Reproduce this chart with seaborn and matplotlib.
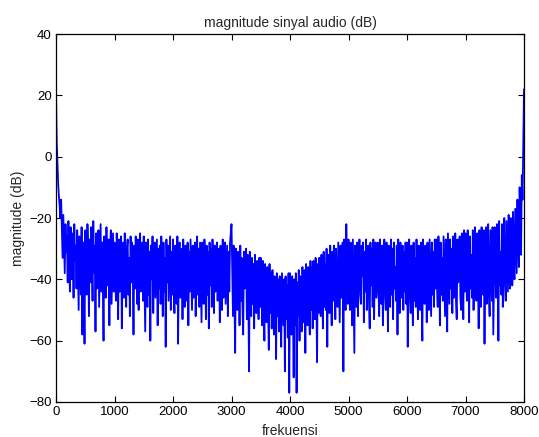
import numpy as np
import pandas as pd
import matplotlib
matplotlib.use("Agg")
import matplotlib.pyplot as plt
import seaborn as sns

# frequency step between bins (Hz)
bin_step = 12.5

# magnitude (dB), 12.5 Hz per value, 0..8000 Hz
magnitude_db = [
    22, 5, -2, -9, -13, -16, -20, -14, -24, -33, -19, -28, -38, -22, -31, -26, -41, -21, -35, -44,
    -23, -30, -40, -25, -46, -22, -34, -29, -43, -24, -37, -50, -26, -32, -45, -23, -58, -28, -39, -61,
    -24, -36, -45, -22, -30, -52, -27, -41, -23, -34, -47, -21, -38, -29, -57, -25, -43, -31, -24, -49,
    -35, -22, -44, -28, -39, -60, -26, -33, -46, -23, -37, -42, -27, -55, -30, -24, -48, -36, -25, -44,
    -28, -40, -47, -25, -34, -53, -27, -44, -31, -26, -56, -36, -28, -46, -25, -39, -49, -30, -27, -45,
    -33, -52, -26, -41, -28, -37, -58, -29, -43, -26, -35, -48, -27, -50, -32, -25, -44, -38, -28, -47,
    -26, -42, -57, -28, -35, -49, -27, -45, -31, -60, -29, -40, -26, -51, -34, -28, -46, -37, -27, -55,
    -30, -43, -29, -48, -26, -38, -52, -28, -44, -33, -62, -27, -41, -29, -47, -36, -26, -50, -31, -45,
    -27, -44, -51, -29, -36, -48, -26, -61, -33, -28, -46, -39, -30, -53, -27, -42, -49, -29, -35, -47,
    -28, -55, -31, -44, -27, -38, -50, -29, -46, -34, -28, -52, -37, -26, -45, -30, -49, -28, -41, -54,
    -28, -40, -48, -27, -36, -53, -29, -45, -31, -56, -28, -42, -30, -49, -27, -38, -51, -29, -44, -33,
    -28, -47, -36, -30, -54, -29, -41, -50, -27, -46, -32, -28, -48, -39, -29, -52, -31, -44, -28, -25,
    -22, -38, -52, -29, -45, -64, -30, -41, -50, -31, -36, -55, -29, -47, -33, -49, -58, -31, -43, -37,
    -30, -53, -32, -46, -70, -31, -40, -52, -33, -48, -35, -56, -32, -44, -51, -34, -39, -53, -33, -49,
    -33, -45, -55, -34, -50, -60, -35, -42, -54, -36, -48, -63, -35, -51, -38, -56, -37, -46, -58, -39,
    -44, -66, -38, -52, -40, -57, -39, -49, -62, -38, -47, -55, -40, -70, -39, -53, -42, -59, -38, -77,
    -38, -50, -58, -39, -48, -72, -40, -55, -38, -77, -41, -52, -37, -60, -39, -49, -57, -36, -46, -54,
    -37, -64, -35, -48, -55, -36, -44, -58, -34, -50, -36, -56, -34, -47, -53, -33, -45, -67, -35, -51,
    -33, -46, -52, -32, -42, -56, -31, -49, -35, -50, -30, -62, -32, -44, -51, -29, -40, -55, -31, -47,
    -29, -38, -53, -30, -45, -49, -28, -41, -54, -29, -46, -37, -28, -70, -27, -44, -50, -22, -39, -48,
    -27, -43, -50, -28, -38, -55, -27, -46, -64, -29, -41, -49, -28, -52, -33, -27, -45, -48, -29, -39,
    -28, -54, -31, -44, -27, -50, -36, -29, -47, -56, -28, -42, -30, -49, -27, -53, -35, -28, -46, -40,
    -28, -44, -52, -27, -39, -48, -29, -55, -33, -27, -46, -50, -28, -41, -57, -29, -37, -49, -27, -45,
    -30, -53, -28, -43, -36, -47, -29, -58, -27, -40, -51, -28, -46, -34, -29, -50, -31, -44, -28, -48,
    -28, -62, -35, -27, -45, -51, -29, -40, -55, -28, -47, -33, -49, -27, -42, -53, -29, -38, -50, -28,
    -46, -60, -27, -41, -48, -29, -36, -54, -28, -44, -50, -27, -39, -52, -28, -45, -31, -49, -27, -43,
    -27, -42, -49, -26, -38, -55, -28, -45, -33, -47, -26, -40, -52, -27, -44, -57, -25, -36, -48, -27,
    -43, -30, -51, -26, -46, -39, -25, -47, -53, -27, -41, -35, -26, -46, -50, -25, -38, -53, -24, -44,
    -25, -40, -47, -24, -36, -54, -26, -43, -32, -46, -24, -50, -38, -23, -44, -47, -25, -35, -56, -24,
    -42, -49, -23, -37, -45, -24, -61, -30, -23, -48, -40, -22, -44, -52, -24, -36, -47, -23, -58, -41,
    -23, -38, -46, -22, -34, -60, -21, -42, -31, -45, -22, -49, -36, -20, -41, -47, -21, -33, -44, -19,
    -39, -43, -20, -30, -42, -18, -35, -40, -17, -28, -38, -14, -26, -36, -10, -20, -32, -6, -14, 4,
    22,
]

x_ticks = [0, 1000, 2000, 3000, 4000, 5000, 6000, 7000, 8000]
y_ticks = [-80, -60, -40, -20, 0, 20, 40]

title_text = "magnitude sinyal audio (dB)"
x_label = "frekuensi"
y_label = "magnitude (dB)"

df = pd.DataFrame({
    "freq": np.arange(len(magnitude_db)) * bin_step,
    "mag": magnitude_db,
})

sns.set_style("white")
plt.rcParams["font.family"] = ["Liberation Sans", "DejaVu Sans"]
plt.rcParams["font.size"] = 10

fig = plt.figure(figsize=(5.39, 4.37), dpi=100)
ax = fig.add_axes([56 / 539, 1 - 402 / 437, (524 - 56) / 539, (402 - 34) / 437])

sns.lineplot(data=df, x="freq", y="mag", color="#0000ff", linewidth=1.3, ax=ax,
             estimator=None, sort=False)

ax.set_xlim(0, 8000)
ax.set_ylim(-80, 40)
ax.set_xticks(x_ticks)
ax.set_yticks(y_ticks)
ax.tick_params(direction="in", length=4, width=0.8, top=True, right=True,
               bottom=True, left=True, labelsize=9.5, colors="black", pad=3)
for s in ax.spines.values():
    s.set_visible(True)
    s.set_color("black")
    s.set_linewidth(0.9)

ax.set_title(title_text, fontsize=10, pad=5)
ax.set_xlabel(x_label, fontsize=10, labelpad=4)
ax.set_ylabel(y_label, fontsize=10, labelpad=3)

fig.savefig("out.png", dpi=100, facecolor="white")
